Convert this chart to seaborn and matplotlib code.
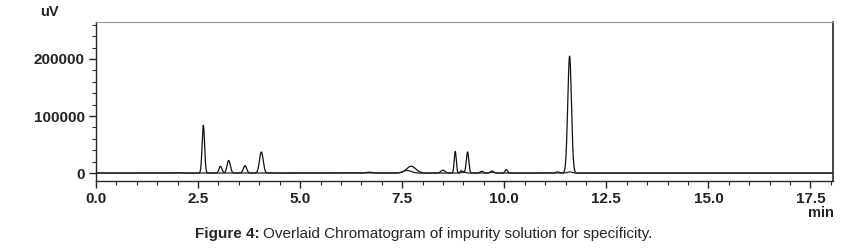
import numpy as np
import pandas as pd
import seaborn as sns
import matplotlib.pyplot as plt
from matplotlib import font_manager
from matplotlib.ticker import MultipleLocator, FuncFormatter

# peak table: retention time (min), height (uV), sigma (min)
rt_a = [2.0, 2.63, 3.05, 3.25, 3.65, 4.05, 6.7, 7.72, 8.5, 8.8, 8.95, 9.1, 9.45, 9.7, 10.05, 11.3, 11.6]
height_a = [800, 84000, 12000, 22000, 13000, 37000, 1500, 12000, 5000, 38000, 4000, 37000, 3000, 3500, 6000, 2000, 205000]
sigma_a = [0.05, 0.03, 0.035, 0.04, 0.04, 0.045, 0.08, 0.11, 0.05, 0.025, 0.03, 0.03, 0.04, 0.04, 0.03, 0.04, 0.045]

rt_b = [7.62, 9.0, 9.7, 11.6]
height_b = [4500, 2500, 1500, 2000]
sigma_b = [0.1, 0.04, 0.05, 0.06]

time = np.linspace(0, 18.05, 4000)


def trace(rts, heights, sigmas):
    y = np.zeros_like(time)
    for r, h, s in zip(rts, heights, sigmas):
        y += h * np.exp(-0.5 * ((time - r) / s) ** 2)
    return y


df = pd.concat([
    pd.DataFrame({'time': time, 'signal': trace(rt_a, height_a, sigma_a), 'run': 'A'}),
    pd.DataFrame({'time': time, 'signal': trace(rt_b, height_b, sigma_b), 'run': 'B'}),
])

sns.set_style('ticks')
names = {f.name for f in font_manager.fontManager.ttflist}
narrow = 'Liberation Sans Narrow' if 'Liberation Sans Narrow' in names else 'Liberation Sans'
plt.rcParams['font.family'] = ['Liberation Sans', 'DejaVu Sans']

fig = plt.figure(figsize=(8.53, 2.49), dpi=100)
ax = fig.add_axes([0.1125, 0.273, 0.864, 0.639])

sns.lineplot(data=df, x='time', y='signal', hue='run', palette=['#111111', '#222222'],
             linewidth=0.9, legend=False, ax=ax, estimator=None, sort=False)

ax.set_xlim(0, 18.05)
ax.set_ylim(-14000, 265000)
ax.xaxis.set_major_locator(MultipleLocator(2.5))
ax.xaxis.set_minor_locator(MultipleLocator(0.5))
ax.yaxis.set_major_locator(MultipleLocator(100000))
ax.yaxis.set_minor_locator(MultipleLocator(20000))
ax.xaxis.set_major_formatter(FuncFormatter(lambda v, p: f'{v:.1f}'))
ax.yaxis.set_major_formatter(FuncFormatter(lambda v, p: f'{int(v)}'))
ax.tick_params(axis='both', which='major', length=5, width=1, labelsize=11, pad=3)
ax.tick_params(axis='both', which='minor', length=3, width=0.8)
for lab in ax.get_xticklabels() + ax.get_yticklabels():
    lab.set_fontweight('bold')
    lab.set_color('#222222')

ax.set_xlabel('')
ax.set_ylabel('')
ax.spines['top'].set_color('#999999')
ax.spines['top'].set_linestyle((0, (2, 1)))
ax.spines['top'].set_linewidth(0.8)
ax.spines['right'].set_linewidth(1.2)
ax.spines['left'].set_linewidth(1.0)
ax.spines['bottom'].set_linewidth(1.0)

fig.text(0.047, 0.935, 'uV', fontsize=10.5, fontweight='bold', color='#222222')
fig.text(0.962, 0.13, 'min', fontsize=10.5, fontweight='bold', color='#222222', ha='center')

cap_y = 0.045
t1 = fig.text(0.229, cap_y, 'Figure 4:', fontsize=11, fontweight='bold', family=narrow)
fig.canvas.draw()
bb = t1.get_window_extent()
x2 = fig.transFigure.inverted().transform((bb.x1, bb.y0))[0]
fig.text(x2 + 0.004, cap_y, 'Overlaid Chromatogram of impurity solution for specificity.',
         fontsize=11, family=narrow)

fig.savefig('out.png', dpi=100)
